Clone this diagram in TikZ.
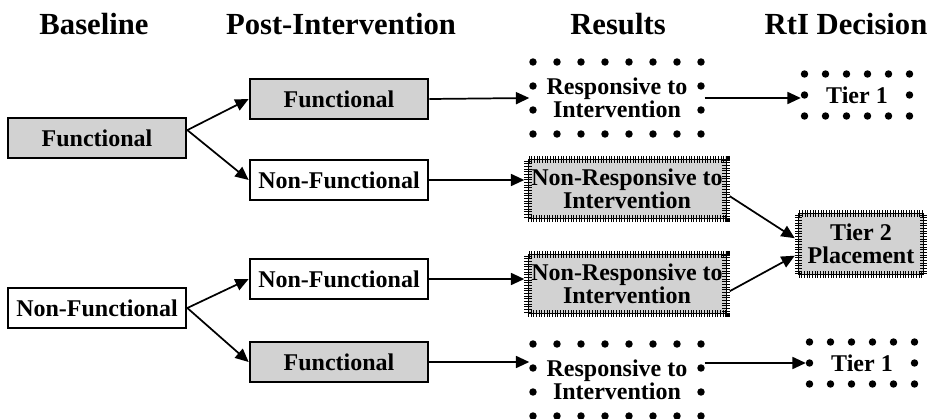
\documentclass[tikz,border=0pt]{standalone}
\usepackage{fontspec}
\setmainfont{Liberation Serif}
\usetikzlibrary{arrows.meta}
\definecolor{boxgray}{RGB}{210,210,210}

\begin{document}
\begin{tikzpicture}[x=0.75pt,y=-0.75pt,>={Triangle[length=10pt,width=9pt]}]
\useasboundingbox (0,0) rectangle (932,418);

% styles
\tikzstyle{every node}=[font=\fontsize{18}{17.5}\selectfont\bfseries,align=center,inner sep=0pt];
\tikzstyle{heading}=[font=\fontsize{23}{26}\selectfont\bfseries];
\tikzstyle{solidbox}=[draw,line width=1.5pt,fill=white,minimum width=134pt,minimum height=30pt];
\tikzstyle{graybox}=[solidbox,fill=boxgray];
\tikzstyle{dotbox}=[draw,line width=5.6pt,line cap=round,dash pattern=on 0pt off 18pt,minimum width=126pt,minimum height=54pt];
\tikzstyle{smalldotbox}=[dotbox,dash pattern=on 0pt off 15.75pt,minimum width=78.75pt,minimum height=31.5pt];
\tikzstyle{hatchbox}=[draw,fill=boxgray,line width=0.6pt,outer sep=2.8pt,minimum width=148.5pt,minimum height=44.25pt,
  postaction={draw,line width=5.6pt,dash pattern=on 0.75pt off 1.25pt}];
\tikzstyle{smallhatchbox}=[hatchbox,minimum width=93.75pt,minimum height=45.75pt];

% headings
\path (94,24)  node[heading] (hdrbase) {Baseline};
\path (341,24) node[heading] (hdrpost) {Post-Intervention};
\path (618,24) node[heading] (hdrres)  {Results};
\path (846,24) node[heading] (hdrdec)  {RtI Decision};

% baseline
\path (97,138) node[graybox]  (base1) {Functional};
\path (97,308) node[solidbox] (base2) {Non-Functional};

% post-intervention
\path (339,99)  node[graybox]  (post1) {Functional};
\path (339,180) node[solidbox] (post2) {Non-Functional};
\path (339,279) node[solidbox] (post3) {Non-Functional};
\path (339,362) node[graybox]  (post4) {Functional};

% results
\path (617,98)  node[dotbox]   (res1) {Responsive to\\Intervention};
\path (627,189) node[hatchbox] (res2) {Non-Responsive to\\Intervention};
\path (627,284) node[hatchbox] (res3) {Non-Responsive to\\Intervention};
\path (617,380) node[dotbox]   (res4) {Responsive to\\Intervention};

% decisions
\path (857,95)  node[smalldotbox]   (dec1) {Tier 1};
\path (861,244) node[smallhatchbox] (dec2) {Tier 2\\Placement};
\path (862,363) node[smalldotbox]   (dec3) {Tier 1};

% edges
\draw[->,line width=1.3pt] (base1.5) -- (post1.west);
\draw[->,line width=1.3pt] (base1.5) -- (post2.west);
\draw[->,line width=1.3pt] (base2.east) -- (post3.west);
\draw[->,line width=1.3pt] (base2.east) -- (post4.west);

\draw[->,line width=1.3pt] (post1.east) -- (res1.west);
\draw[->,line width=1.3pt] (post2.east) -- (post2.east -| res2.west);
\draw[->,line width=1.3pt] (post3.east) -- (post3.east -| res3.west);
\draw[->,line width=1.3pt] (post4.east) -- (post4.east -| res4.west);

\draw[->,line width=1.3pt] (res1.east) -- (res1.east -| dec1.west);
\draw[->,line width=1.3pt] (res2.-4) -- (dec2.175);
\draw[->,line width=1.3pt] (res3.-4) -- (dec2.190);
\draw[->,line width=1.3pt] (res4.east |- dec3.west) -- (dec3.west);

\end{tikzpicture}
\end{document}
